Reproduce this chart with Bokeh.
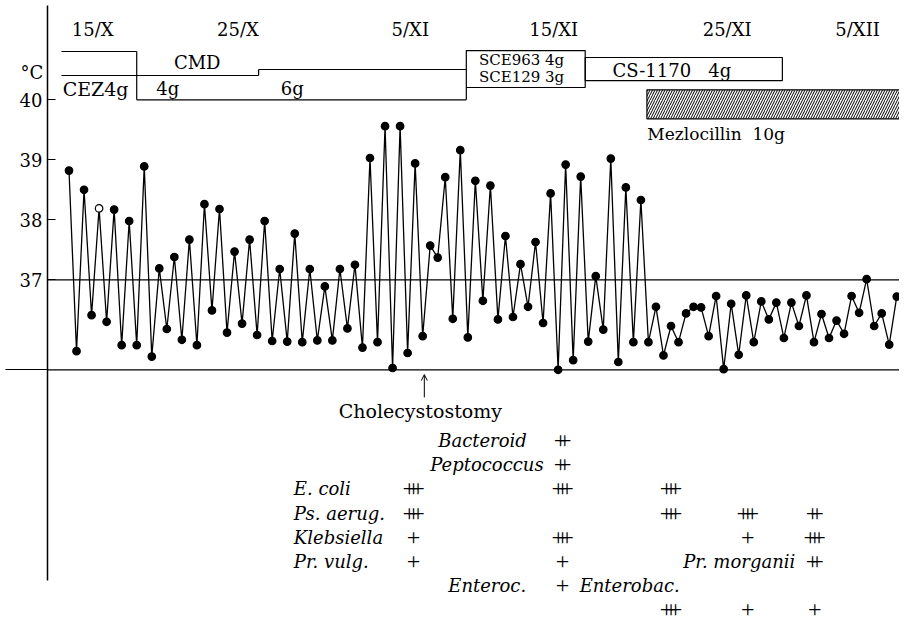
import numpy as np
from bokeh.plotting import figure
from bokeh.models import Range1d, FixedTicker, Arrow, OpenHead, ColumnDataSource
from bokeh.core.properties import value
from bokeh.embed import file_html
from bokeh.resources import INLINE

# ---------------- data ----------------
# body temperature (deg C), two readings a day (morning / evening)
temps = [38.82, 35.81, 38.50, 36.41, 38.19, 36.30, 38.17, 35.91, 37.98, 35.91,
         38.89, 35.72, 37.19, 36.18, 37.38, 36.00, 37.67, 35.91, 38.26, 36.49,
         38.18, 36.12, 37.47, 36.27, 37.67, 36.08, 37.98, 35.98, 37.18, 35.97,
         37.77, 35.96, 37.18, 35.99, 36.89, 35.99, 37.18, 36.19, 37.25, 35.87,
         39.03, 35.96, 39.56, 35.53, 39.56, 35.78, 38.94, 36.06, 37.57, 37.37,
         38.71, 36.35, 39.16, 36.04, 38.65, 36.65, 38.57, 36.34, 37.73, 36.38,
         37.26, 36.55, 37.63, 36.28, 38.44, 35.50, 38.92, 35.66, 38.72, 35.97,
         37.06, 36.17, 39.02, 35.63, 38.54, 35.96, 38.33, 35.96, 36.55, 35.74,
         36.23, 35.96, 36.44, 36.55, 36.54, 36.06, 36.73, 35.51, 36.60, 35.75,
         36.74, 35.96, 36.64, 36.34, 36.62, 36.03, 36.62, 36.23, 36.74, 35.96,
         36.43, 36.03, 36.32, 36.10, 36.73, 36.45, 37.01, 36.23, 36.44, 35.92,
         36.72]
hollow_points = [4]
readings_per_day = 2

date_labels = ["15/X", "25/X", "5/XI", "15/XI", "25/XI", "5/XII"]
date_days = [1.57, 11.23, 22.68, 32.21, 43.73, 52.40]

temp_ticks = [37, 38, 39, 40]
temp_tick_labels = ["37", "38", "39", "40"]
normal_temp = 37
chart_base = 35.5

# antibiotic courses (days)
cez_start, cez_end = -0.5, 4.5
cmd_end, cmd_dose_change = 26.4, 12.6
sce_start, sce_end = 26.4, 34.3
cs_start, cs_end = 34.3, 47.4
mezlo_start, mezlo_end = 38.4, 57.0

surgery_day = 23.61

# cultures
culture_days = [22.9, 32.8, 40.0, 45.1, 49.55]
organisms = ["Bacteroid", "Peptococcus", "E. coli", "Ps. aerug.", "Klebsiella",
             "Pr. vulg.", "Pr. morganii", "Enteroc.", "Enterobac."]
organism_row = [0, 1, 2, 3, 4, 5, 5, 6, 7]
grades = [[0, 2, 0, 0, 0],
          [0, 2, 0, 0, 0],
          [3, 3, 3, 0, 0],
          [3, 0, 3, 3, 2],
          [1, 3, 0, 1, 3],
          [1, 1, 0, 0, 0],
          [0, 0, 0, 0, 2],
          [0, 1, 0, 0, 0],
          [0, 0, 3, 1, 1]]
label_day = [24.53, 24.0, 14.94, 14.94, 14.94, 14.94, 40.81, 25.2, 33.93]
label_row = [0, 1, 2, 3, 4, 5, 5, 6, 6]

# ---------------- figure ----------------
FONT = "DejaVu Serif"
X0, X1 = -4.551, 55.183
AXIS_DAY = -1.4286
p = figure(width=899, height=625, output_backend="svg", toolbar_location=None,
           x_range=Range1d(X0, X1), y_range=Range1d(31.238, 41.655),
           x_axis_type=None, min_border=0)
p.outline_line_color = None
p.ygrid.grid_line_color = None
p.extra_y_ranges = {"table": Range1d(start=7.645, end=-18.18)}

ya = p.yaxis[0]
ya.fixed_location = AXIS_DAY
ya.ticker = FixedTicker(ticks=temp_ticks, minor_ticks=[chart_base])
ya.bounds = (31.99, 41.57)
ya.axis_line_width = 1.5
ya.axis_line_color = "black"
ya.major_tick_in = 8
ya.major_tick_out = 0
ya.minor_tick_in = 0
ya.minor_tick_out = 42
ya.major_tick_line_color = "black"
ya.minor_tick_line_color = "black"
ya.major_tick_line_width = 1.2
ya.minor_tick_line_width = 1.2
ya.major_label_overrides = {t: "" for t in temp_ticks}
ya.major_label_text_font_size = "0px"


def txt(x, y, s, size, align="left", style="normal", **kw):
    p.text(x=x, y=y, text=s, text_font=value(FONT), text_font_size=value(size),
           text_align=align, text_baseline="middle", text_color="black",
           text_font_style=style, **kw)


# temperature scale labels, left of the axis
txt([AXIS_DAY] * len(temp_ticks), temp_ticks, temp_tick_labels, "18px", align="right", x_offset=-5)
txt([-2.47], [40.455], ["°C"], "18px", align="center")

# reference lines: 37 deg line and chart base line
p.segment(x0=[AXIS_DAY, AXIS_DAY], x1=[X1, X1], y0=[normal_temp, chart_base],
          y1=[normal_temp, chart_base], line_color="black", line_width=1.2)

# dates
txt(date_days, [41.172] * len(date_days), date_labels, "18px", align="center")

# antibiotic timeline
LV_TOP, LV_MID, LV_MID2, LV_BASE = 40.805, 40.405, 40.505, 40.0
seg = dict(
    x0=[cez_start, cez_end, cez_start, cmd_dose_change, cmd_dose_change, cez_end, sce_start],
    y0=[LV_TOP, LV_TOP, LV_MID, LV_MID, LV_MID2, LV_BASE, 40.205],
    x1=[cez_end, cez_end, cmd_dose_change, cmd_dose_change, cmd_end, cmd_end, sce_start],
    y1=[LV_TOP, LV_BASE, LV_MID, LV_MID2, LV_MID2, LV_BASE, LV_BASE])
p.segment(x0="x0", y0="y0", x1="x1", y1="y1", source=ColumnDataSource(seg),
          line_color="black", line_width=1.2)
p.quad(left=[sce_start, cs_start], right=[sce_end, cs_end], bottom=[40.205, 40.32],
       top=[40.82, 40.705], fill_color=None, line_color="black", line_width=1.2)
p.quad(left=[mezlo_start], right=[mezlo_end], bottom=[39.683], top=[40.167],
       fill_color="white", hatch_pattern="/", hatch_color="black", hatch_scale=5,
       hatch_weight=1, line_color="black", line_width=1.2)

NB = "\u00a0"
txt([8.52], [40.622], ["CMD"], "18px", align="center")
txt([-0.42], [40.18], ["CEZ4g"], "19px")
txt([5.8], [40.18], ["4g"], "18px")
txt([14.07], [40.18], ["6g"], "18px")
txt([27.24], [40.663], ["SCE963" + NB + "4g"], "15px")
txt([27.24], [40.388], ["SCE129" + NB + "3g"], "15px")
txt([36.11], [40.488], ["CS-1170" + NB * 3 + "4g"], "18px")
txt([38.43], [39.422], ["Mezlocillin" + NB * 2 + "10g"], "17px")

# temperature curve
day = np.arange(len(temps)) / readings_per_day
fills = ["white" if i in hollow_points else "black" for i in range(len(temps))]
p.line(day, temps, line_color="black", line_width=1.3)
p.scatter(day, temps, size=7.5, marker="circle", fill_color=fills, line_color="black", line_width=1.2)

# surgery
p.add_layout(Arrow(end=OpenHead(size=6, line_width=1, line_color="black"),
                   x_start=surgery_day, y_start=35.04, x_end=surgery_day, y_end=35.42,
                   line_width=1, line_color="black"))
txt([surgery_day], [34.805], ["Cholecystostomy"], "19px", align="center", x_offset=-4)

# culture table
txt(label_day, label_row, organisms, "18px", style="italic", y_range_name="table")
gx, gy, go = [], [], []
for r, row in zip(organism_row, grades):
    for c, g in enumerate(row):
        for k in range(g):
            gx.append(culture_days[c])
            gy.append(r)
            go.append((k - (g - 1) / 2) * 4.4)
p.text(x="x", y="y", text=value("+"), x_offset="o", source=ColumnDataSource(dict(x=gx, y=gy, o=go)),
       text_font=value("Liberation Serif"), text_font_size=value("24px"), text_align="center",
       text_baseline="middle", text_color="black", y_range_name="table")

open("out.html", "w").write(file_html(p, INLINE))
